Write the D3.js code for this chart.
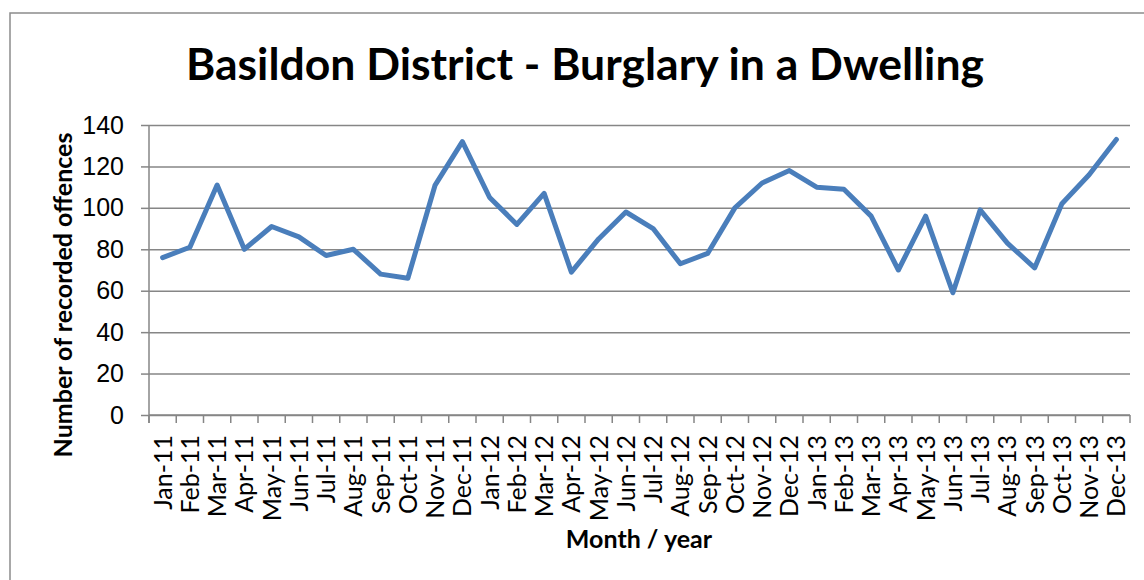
<!DOCTYPE html>
<html>
<head>
<meta charset="utf-8">
<script src="https://cdn.jsdelivr.net/npm/d3@7"></script>
<style>
  body { margin: 0; background: #fff; }
</style>
</head>
<body>
<div id="chart"></div>
<script>
// Month labels and recorded offences
var months = ["Jan-11","Feb-11","Mar-11","Apr-11","May-11","Jun-11","Jul-11","Aug-11","Sep-11","Oct-11","Nov-11","Dec-11",
  "Jan-12","Feb-12","Mar-12","Apr-12","May-12","Jun-12","Jul-12","Aug-12","Sep-12","Oct-12","Nov-12","Dec-12",
  "Jan-13","Feb-13","Mar-13","Apr-13","May-13","Jun-13","Jul-13","Aug-13","Sep-13","Oct-13","Nov-13","Dec-13"];
var offences = [76, 81, 111, 80, 91, 86, 77, 80, 68, 66, 111, 132,
  105, 92, 107, 69, 85, 98, 90, 73, 78, 100, 112, 118,
  110, 109, 96, 70, 96, 59, 99, 83, 71, 102, 116, 133];
var yTicks = [0, 20, 40, 60, 80, 100, 120, 140];

var lineColor = '#4a7ebb';
var gridColor = '#868686';

var width = 1144, height = 580;
var margin = {top: 125, right: 14, bottom: 165, left: 149};

var svg = d3.select('#chart').append('svg')
  .attr('width', width)
  .attr('height', height)
  .attr('font-family', 'Lato');

svg.append('rect')
  .attr('x', 0).attr('y', 0)
  .attr('width', width).attr('height', height)
  .attr('fill', '#fff');

// outer chart frame
svg.append('rect')
  .attr('x', 10).attr('y', 13)
  .attr('width', width + 20).attr('height', height + 20)
  .attr('fill', 'none')
  .attr('stroke', '#8c8c8c')
  .attr('stroke-width', 1.5);

var x = d3.scaleBand()
  .domain(months)
  .range([margin.left, width - margin.right]);

var y = d3.scaleLinear()
  .domain([0, 140])
  .range([height - margin.bottom, margin.top]);

// gridlines + y axis
var yAxis = g => g
  .attr('transform', `translate(${margin.left},0)`)
  .call(d3.axisLeft(y).tickValues(yTicks).tickSize(8).tickPadding(17))
  .call(g => g.select('.domain').remove())
  .call(g => g.selectAll('.tick line').attr('stroke', gridColor).attr('stroke-width', 1.5))
  .call(g => g.selectAll('.tick').append('line')
    .attr('x2', width - margin.right - margin.left)
    .attr('stroke', gridColor)
    .attr('stroke-width', 1.5))
  .call(g => g.selectAll('.tick text')
    .attr('fill', '#000')
    .attr('font-size', '25px'));

svg.append('g').call(yAxis);

// y axis line
svg.append('line')
  .attr('x1', margin.left).attr('x2', margin.left)
  .attr('y1', y(140)).attr('y2', y(0) + 8)
  .attr('stroke', gridColor)
  .attr('stroke-width', 1.5);

// x axis with ticks between categories
var xAxisG = svg.append('g')
  .attr('transform', `translate(0,${y(0)})`);

xAxisG.append('line')
  .attr('x1', margin.left).attr('x2', width - margin.right)
  .attr('stroke', gridColor).attr('stroke-width', 1.5);

xAxisG.selectAll('line.tk')
  .data(months.concat(['end']))
  .join('line')
  .attr('class', 'tk')
  .attr('x1', (d, i) => margin.left + i * x.step())
  .attr('x2', (d, i) => margin.left + i * x.step())
  .attr('y1', 0).attr('y2', 8)
  .attr('stroke', gridColor).attr('stroke-width', 1.5);

xAxisG.selectAll('text')
  .data(months)
  .join('text')
  .attr('transform', d => `translate(${x(d) + x.bandwidth() / 2 + 9},20) rotate(-90)`)
  .attr('text-anchor', 'end')
  .attr('font-size', '25px')
  .attr('fill', '#000')
  .text(d => d);

// line
var line = d3.line()
  .x((d, i) => x(months[i]) + x.bandwidth() / 2)
  .y(d => y(d));

svg.append('path')
  .datum(offences)
  .attr('fill', 'none')
  .attr('stroke', lineColor)
  .attr('stroke-width', 5)
  .attr('stroke-linejoin', 'round')
  .attr('stroke-linecap', 'round')
  .attr('d', line);

// titles
svg.append('text')
  .attr('x', 585).attr('y', 80)
  .attr('text-anchor', 'middle')
  .attr('font-weight', '700')
  .attr('font-size', '44.5px')
  .text('Basildon District - Burglary in a Dwelling');

svg.append('text')
  .attr('x', 639).attr('y', 548)
  .attr('text-anchor', 'middle')
  .attr('font-weight', '700')
  .attr('font-size', '25px')
  .text('Month / year');

svg.append('text')
  .attr('transform', 'translate(72,295) rotate(-90)')
  .attr('text-anchor', 'middle')
  .attr('font-weight', '700')
  .attr('font-size', '25px')
  .text('Number of recorded offences');
</script>
</body>
</html>
